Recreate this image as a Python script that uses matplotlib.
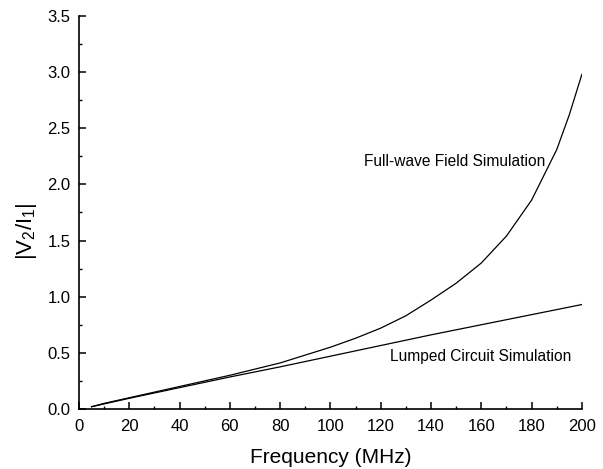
import matplotlib
matplotlib.use("Agg")
import matplotlib.pyplot as plt
from matplotlib.ticker import MultipleLocator

plt.rcParams['font.family'] = ['Liberation Sans', 'DejaVu Sans']
plt.rcParams['mathtext.fontset'] = 'custom'
plt.rcParams['mathtext.rm'] = 'Liberation Sans'
plt.rcParams['mathtext.it'] = 'Liberation Sans'

# valores
freq_full = [5, 10, 20, 30, 40, 50, 60, 70, 80, 90, 100, 110, 120, 130,
             140, 150, 160, 170, 180, 190, 195, 200]
v_full = [0.02, 0.05, 0.10, 0.15, 0.20, 0.25, 0.30, 0.355, 0.41, 0.48, 0.55,
          0.63, 0.72, 0.83, 0.97, 1.12, 1.30, 1.54, 1.86, 2.31, 2.62, 2.98]

freq_lump = [5, 20, 40, 60, 80, 100, 120, 140, 160, 180, 200]
v_lump = [0.02, 0.095, 0.19, 0.285, 0.375, 0.47, 0.565, 0.66, 0.75, 0.84, 0.93]

fig = plt.figure(figsize=(6.03, 4.69), dpi=100)
ax = fig.add_axes([0.131, 0.128, 0.834, 0.838])

ax.plot(freq_full, v_full, color='black', linewidth=0.9)
ax.plot(freq_lump, v_lump, color='black', linewidth=0.9)

ax.text(113.5, 2.2, 'Full-wave Field Simulation', fontsize=11.2, va='center', ha='left')
ax.text(123.5, 0.47, 'Lumped Circuit Simulation', fontsize=11.2, va='center', ha='left')

ax.set_xlim(0, 200)
ax.set_ylim(0, 3.5)
ax.xaxis.set_major_locator(MultipleLocator(20))
ax.xaxis.set_minor_locator(MultipleLocator(10))
ax.yaxis.set_major_locator(MultipleLocator(0.5))
ax.yaxis.set_minor_locator(MultipleLocator(0.25))
ax.yaxis.set_major_formatter(plt.FormatStrFormatter('%.1f'))

ax.spines['top'].set_visible(False)
ax.spines['right'].set_visible(False)
for s in ['left', 'bottom']:
    ax.spines[s].set_linewidth(1.2)

ax.tick_params(which='major', direction='in', length=5, width=1.1, labelsize=12)
ax.tick_params(axis='x', which='major', pad=7)
ax.tick_params(axis='y', which='major', pad=6)
ax.tick_params(which='minor', direction='in', length=2.5, width=1.0)

ax.set_xlabel('Frequency (MHz)', fontsize=15)
ax.xaxis.set_label_coords(0.5, -0.1)
ax.set_ylabel('|V$_2$/I$_1$|', fontsize=16)
ax.yaxis.set_label_coords(-0.08, 0.453)

fig.savefig('out.png', dpi=100)
